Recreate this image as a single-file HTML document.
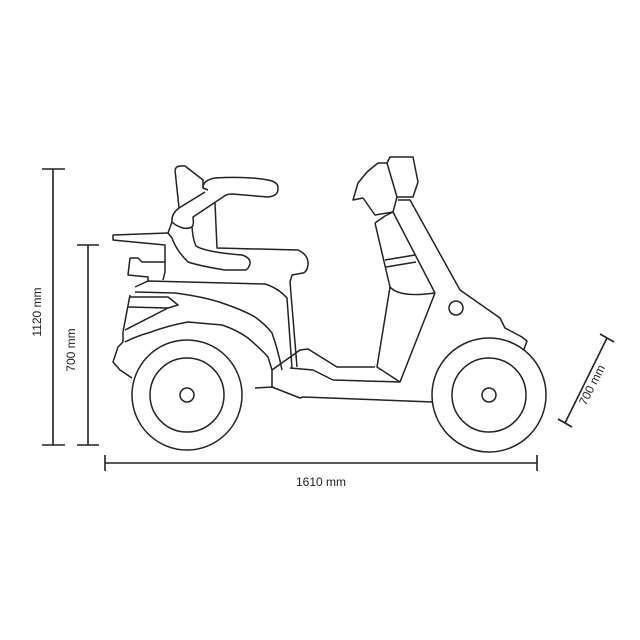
<!DOCTYPE html>
<html><head><style>
html,body{margin:0;padding:0;background:#fff;width:640px;height:640px;overflow:hidden}
svg{display:block}
text{font-family:"Liberation Sans",sans-serif;font-size:12px;fill:#222}
</style></head><body>
<svg width="640" height="640" viewBox="0 0 640 640" xmlns="http://www.w3.org/2000/svg">
<g stroke="#222" stroke-width="1.6" fill="none">
<line x1="53" y1="169" x2="53" y2="445"/><line x1="42" y1="169" x2="65" y2="169"/><line x1="42" y1="445" x2="65" y2="445"/>
<line x1="88" y1="245" x2="88" y2="445"/><line x1="77" y1="245" x2="99" y2="245"/><line x1="77" y1="445" x2="99" y2="445"/>
<line x1="105" y1="463" x2="537" y2="463"/><line x1="105" y1="455" x2="105" y2="471"/><line x1="537" y1="455" x2="537" y2="471"/>
<line x1="607" y1="338" x2="565" y2="423"/><line x1="600" y1="334" x2="614" y2="342"/><line x1="558" y1="419" x2="572" y2="427"/>
</g>
<text x="37" y="312" text-anchor="middle" transform="rotate(-90 37 312)" dy="4">1120 mm</text>
<text x="71" y="350" text-anchor="middle" transform="rotate(-90 71 350)" dy="4">700 mm</text>
<text x="321" y="486" text-anchor="middle">1610 mm</text>
<text x="592" y="385" text-anchor="middle" transform="rotate(-63 592 385)" dy="4">700 mm</text>

<g stroke="#222" stroke-width="1.5" fill="none" stroke-linejoin="round">
<!-- front body -->
<path d="M398,200 L410,200 L460,290 L500,318 L505,328 L522,337 L527,341 L523,352"/>
<circle cx="456" cy="308" r="7"/>
<!-- wheels -->
<circle cx="187" cy="395" r="55" fill="#fff"/><circle cx="187" cy="395" r="37"/><circle cx="187" cy="395" r="7"/>
<circle cx="489" cy="395" r="57" fill="#fff"/><circle cx="489" cy="395" r="37"/><circle cx="489" cy="395" r="7"/>
<!-- backrest -->
<path d="M175,170 Q176,165 185,166 L203,180 L203,188 L208,190 M179,208 L175,170 M179,208 L205,192"/>
<!-- arm -->
<path d="M203,188 Q203,180 215,178 Q245,176 268,180 Q279,182 278,189 Q278,196 268,197 L232,194 Q226,194 223,197 L193,217 Q194,225 192,227 Q187,229 183,228 Q176,226 172,222 Q171,214 179,208"/>
<path d="M215,203 L217,248 L298,250 Q309,255 308,265 Q307,272 303,273 L292,275 L290,282 L297,367"/>
<path d="M192,227 Q193,240 196,246 Q205,252 242,255 Q251,258 250,264 Q248,270 245,270 L225,270 Q200,266 188,262 Q176,250 172,238 L168,233 L172,222"/>
<!-- rack and lights -->
<path d="M168,233 L113,235 L113,240 L165,245 L165,272 L163,280"/>
<path d="M130,258 L138,258 L142,262 L165,262 M130,258 L128,275 L148,277 L148,281"/>
<!-- body -->
<path d="M135,287 L148,281 L265,284 Q278,288 287,298 L292,368"/>
<path d="M135,292 L175,293 Q205,297 222,303 Q243,310 255,317 Q266,325 272,333 Q278,350 282,370"/>
<path d="M130,295 L123,332 L123,342 L118,347 L113,362 L120,370 L132,378"/>
<path d="M125,342 Q137,336 148,333 Q170,325 188,322 L222,325 Q237,330 248,338 Q262,350 268,357 L272,370 L272,388"/>
<path d="M130,297 L168,297 L178,305 L168,308 L128,307 M168,308 L125,330"/>
<!-- floor -->
<path d="M272,370 L300,350 L308,349 L337,367 L375,367"/>
<path d="M290,368 L313,370 L333,380 L400,382"/>
<path d="M255,388 L272,387 L300,398 L303,397 L433,402"/>
<!-- stem -->
<path d="M375,223 L390,287 L377,367 L400,382 L435,293"/>
<path d="M390,287 Q400,298 435,293"/>
<path d="M385,260 L415,255 M386,267 L416,262"/>
<path d="M375,223 L385,216 L393,212 L435,293"/>
<!-- head -->
<path d="M390,157 L413,157 L418,182 L413,197 L397,197 L387,163 Z"/>
<path d="M387,163 L378,163 L367,172 L358,183 L353,200 L363,198 L375,215 L393,212 L397,197"/>
</g>
</svg>
</body></html>
